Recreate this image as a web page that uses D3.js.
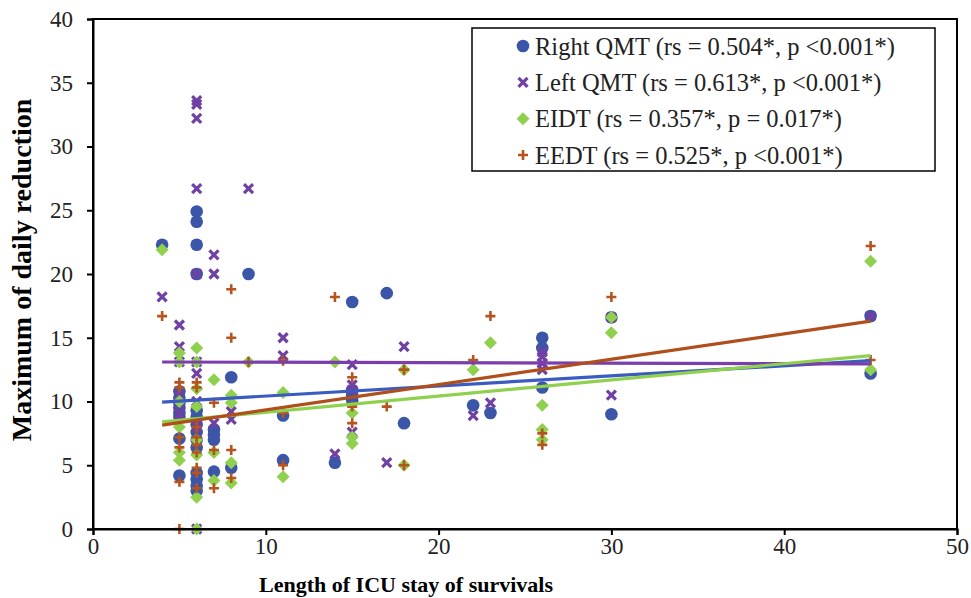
<!DOCTYPE html>
<html>
<head>
<meta charset="utf-8">
<script src="https://cdn.jsdelivr.net/npm/d3@7"></script>
<style>
  body { margin: 0; background: #fff; }
  svg text { font-family: "Liberation Serif", "Times New Roman", serif; }
</style>
</head>
<body>
<div id="chart"></div>
<script>
// values: [length of stay, max daily reduction]
var rightQMT = [[4,22.3],
  [5,10.8],[5,10.3],[5,9.9],[5,9.5],[5,9.1],[5,8.8],[5,7.1],[5,4.2],
  [6,24.9],[6,24.1],[6,22.3],[6,20.0],[6,9.3],[6,8.8],[6,8.2],[6,7.6],[6,7.0],[6,6.4],[6,4.4],[6,3.9],[6,3.4],[6,3.0],
  [7,7.8],[7,7.4],[7,7.0],[7,4.5],
  [8,11.9],[8,4.8],[9,20.0],[11,8.9],[11,5.4],[14,5.2],
  [15,17.8],[15,10.9],[15,10.5],[15,10.1],[17,18.5],[18,8.3],[22,9.7],[23,9.1],
  [26,15.0],[26,14.2],[26,11.1],[30,16.6],[30,9.0],[45,16.7],[45,12.2]];

var leftQMT = [[4,18.2],
  [5,16.0],[5,14.3],[5,13.1],[5,10.5],[5,9.8],[5,9.0],
  [6,33.6],[6,33.3],[6,32.2],[6,26.7],[6,20.0],[6,13.1],[6,12.2],[6,10.0],[6,8.0],[6,0],
  [7,21.5],[7,20.0],[7,8.3],[8,9.2],[8,8.6],[9,26.7],[11,15.0],[11,13.6],[14,5.9],
  [15,12.9],[15,11.3],[15,10.9],[15,7.6],[17,5.2],[18,14.3],[22,8.9],[23,9.9],
  [26,13.9],[26,13.5],[26,13.0],[26,12.5],[30,16.6],[30,10.5],[45,16.7]];

var eidt = [[4,21.9],
  [5,13.8],[5,13.1],[5,10.0],[5,8.0],[5,6.0],[5,5.4],
  [6,14.2],[6,13.1],[6,11.0],[6,9.6],[6,7.0],[6,5.8],[6,2.5],[6,0],
  [7,11.7],[7,6.0],[7,3.8],[8,10.5],[8,9.9],[8,5.2],[8,3.6],[9,13.1],
  [11,10.7],[11,4.1],[14,13.1],[15,9.1],[15,7.2],[15,6.7],[18,12.5],[18,5.0],
  [22,12.5],[23,14.6],[26,9.7],[26,7.8],[26,7.0],[30,16.6],[30,15.4],[45,21.0],[45,12.5]];

var eedt = [[4,16.7],
  [5,11.5],[5,11.1],[5,7.2],[5,6.4],[5,3.7],[5,0],
  [6,11.5],[6,11.1],[6,8.0],[6,7.2],[6,6.6],[6,6.0],[6,4.8],[6,4.4],[6,3.2],
  [7,9.9],[7,6.2],[7,3.2],[8,18.8],[8,15.0],[8,6.2],[8,4.0],[9,13.1],
  [11,13.2],[11,9.1],[11,5.0],[14,18.2],[15,11.9],[15,9.6],[15,8.3],[17,9.6],
  [18,12.5],[18,5.0],[22,13.25],[23,16.7],[26,7.5],[26,6.6],[30,18.2],[45,22.2],[45,13.25]];

// trend lines, start and end values
var trendX = [4, 45];
var trendRight = [9.95, 13.2];
var trendLeft = [13.1, 12.95];
var trendEIDT = [8.4, 13.6];
var trendEEDT = [8.15, 16.3];

var legendLabels = ["Right QMT (rs = 0.504*, p <0.001*)",
                    "Left QMT (rs = 0.613*, p <0.001*)",
                    "EIDT (rs = 0.357*, p = 0.017*)",
                    "EEDT (rs = 0.525*, p <0.001*)"];
var xTicks = [0, 10, 20, 30, 40, 50];
var yTicks = [0, 5, 10, 15, 20, 25, 30, 35, 40];

var W = 971, H = 598;
var margin = {top: 19, right: 14, bottom: 69, left: 93};

var svg = d3.select("#chart").append("svg")
    .attr("width", W)
    .attr("height", H);

var x = d3.scaleLinear().domain([0, 50]).range([margin.left, W - margin.right]);
var y = d3.scaleLinear().domain([0, 40]).range([H - margin.bottom, margin.top]);

var series = [
  {data: rightQMT, trend: trendRight, color: "#3b55a8", line: "#3a5cc0", shape: "circle"},
  {data: leftQMT, trend: trendLeft, color: "#7040a3", line: "#7a3fac", shape: "x"},
  {data: eidt, trend: trendEIDT, color: "#8fd14f", line: "#8fd14f", shape: "diamond"},
  {data: eedt, trend: trendEEDT, color: "#b5541f", line: "#b04e1c", shape: "plus"}
];

function drawMarker(g, shape, color) {
  if (shape == "circle") {
    g.append("circle").attr("r", 6.3).attr("fill", color);
  } else if (shape == "x") {
    g.append("path").attr("d", "M-4.5,-4.5L4.5,4.5M-4.5,4.5L4.5,-4.5")
      .attr("stroke", color).attr("stroke-width", 3.2).attr("fill", "none");
  } else if (shape == "diamond") {
    g.append("path").attr("d", "M0,-6.5L6.5,0L0,6.5L-6.5,0Z").attr("fill", color);
  } else {
    g.append("path").attr("d", "M-5,0L5,0M0,-5L0,5")
      .attr("stroke", color).attr("stroke-width", 2.6).attr("fill", "none");
  }
}

// markers
series.forEach(function(s) {
  var gs = svg.append("g");
  s.data.forEach(function(d) {
    var g = gs.append("g").attr("transform", "translate(" + x(d[0]) + "," + y(d[1]) + ")");
    drawMarker(g, s.shape, s.color);
  });
});

// trend lines
series.forEach(function(s) {
  svg.append("line")
    .attr("x1", x(trendX[0])).attr("y1", y(s.trend[0]))
    .attr("x2", x(trendX[1])).attr("y2", y(s.trend[1]))
    .attr("stroke", s.line)
    .attr("stroke-width", 3.2);
});

// plot border
svg.append("rect")
  .attr("x", margin.left).attr("y", margin.top)
  .attr("width", W - margin.left - margin.right)
  .attr("height", H - margin.top - margin.bottom)
  .attr("fill", "none").attr("stroke", "#000").attr("stroke-width", 2);

// axes
var xAxis = svg.append("g")
  .attr("transform", "translate(0," + (H - margin.bottom) + ")")
  .call(d3.axisBottom(x).tickValues(xTicks).tickSize(6).tickPadding(3));
var yAxis = svg.append("g")
  .attr("transform", "translate(" + margin.left + ",0)")
  .call(d3.axisLeft(y).tickValues(yTicks).tickSize(6).tickPadding(14));

[xAxis, yAxis].forEach(function(a) {
  a.select(".domain").attr("stroke-width", 2).attr("stroke", "#000");
  a.selectAll(".tick line").attr("stroke-width", 2).attr("stroke", "#000");
  a.selectAll(".tick text").attr("font-size", 23)
    .attr("font-family", "Liberation Serif").attr("fill", "#222");
});

// axis titles
svg.append("text")
  .attr("x", 406).attr("y", 592)
  .attr("text-anchor", "middle")
  .attr("font-size", 22).attr("font-weight", "bold")
  .text("Length of ICU stay of survivals");

svg.append("text")
  .attr("transform", "translate(31,270) rotate(-90)")
  .attr("text-anchor", "middle")
  .attr("font-size", 28).attr("font-weight", "bold")
  .text("Maximum of daily reduction");

// legend
var legend = svg.append("g");
legend.append("rect")
  .attr("x", 472).attr("y", 28).attr("width", 463).attr("height", 143)
  .attr("fill", "#fff").attr("stroke", "#000").attr("stroke-width", 1.5);

var legendY = d3.scalePoint().domain(d3.range(4)).range([46, 155]);
series.forEach(function(s, i) {
  var g = legend.append("g").attr("transform", "translate(523," + legendY(i) + ")");
  drawMarker(g, s.shape, s.color);
  legend.append("text")
    .attr("x", 535).attr("y", legendY(i))
    .attr("dy", "0.35em")
    .attr("font-size", 24.5)
    .attr("fill", "#222")
    .text(legendLabels[i]);
});
</script>
</body>
</html>
